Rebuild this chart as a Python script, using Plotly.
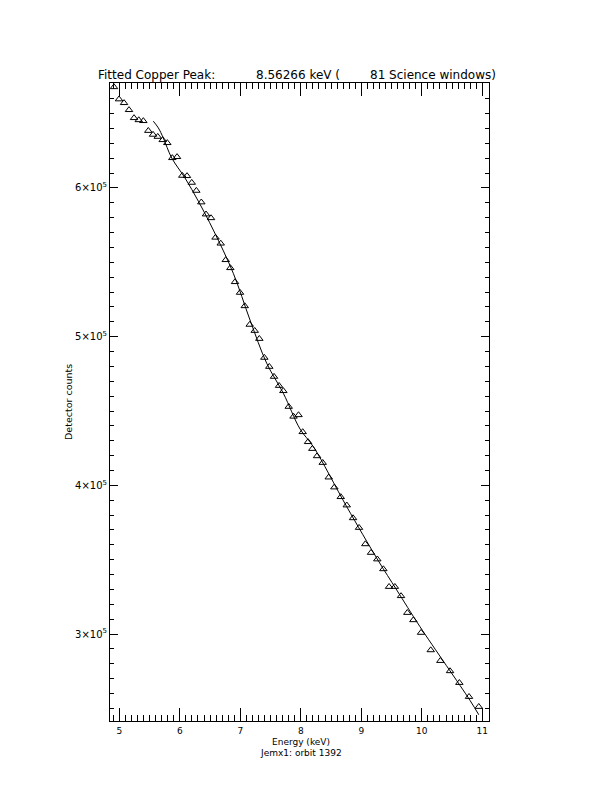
import plotly.graph_objects as go

# ---- data (energy in keV, detector counts) ----
energy = [4.912, 4.995, 5.078, 5.160, 5.243, 5.321, 5.397, 5.479, 5.557, 5.635,
          5.717, 5.793, 5.876, 5.954, 6.041, 6.119, 6.197, 6.273, 6.355, 6.433,
          6.516, 6.590, 6.676, 6.759, 6.835, 6.912, 6.995, 7.073, 7.155, 7.238,
          7.314, 7.397, 7.479, 7.557, 7.640, 7.711, 7.800, 7.879, 7.962, 8.031,
          8.119, 8.190, 8.268, 8.362, 8.461, 8.554, 8.660, 8.759, 8.863, 8.962,
          9.066, 9.160, 9.264, 9.364, 9.458, 9.554, 9.656, 9.760, 9.860, 9.987,
          10.147, 10.306, 10.466, 10.620, 10.780, 10.941]
counts = [667900, 659700, 657200, 652500, 647100, 645700, 645100, 638500, 635900, 634500,
          632300, 630300, 620200, 620900, 608300, 608100, 603600, 598200, 590400, 582300,
          579800, 566700, 562700, 551600, 546200, 536800, 529600, 520600, 508100, 504000,
          498600, 485900, 479800, 473100, 467000, 463500, 452900, 446300, 447300, 435900,
          429200, 424600, 419700, 415200, 405400, 398700, 392200, 386600, 378000, 371500,
          360500, 354700, 350300, 343700, 331800, 331800, 325600, 314300, 309400, 300900,
          289200, 282000, 275100, 267200, 257800, 251100]

fit_energy = [5.562, 5.645, 5.727, 5.866, 6.086, 6.306, 6.554, 6.884, 7.160, 7.436,
              7.711, 7.987, 8.207, 8.759, 9.276, 9.585, 9.970, 10.797, 10.941]
fit_counts = [644900, 640400, 633600, 620200, 606700, 591100, 571700, 542600, 511200, 482100,
              461900, 437900, 426000, 385600, 349600, 329600, 304900, 255300, 245700]

y_tickvals = [300000, 400000, 500000, 600000]
y_ticktext = ["3×10<sup>5</sup>", "4×10<sup>5</sup>", "5×10<sup>5</sup>", "6×10<sup>5</sup>"]
x_tickvals = [5, 6, 7, 8, 9, 10, 11]

title_left = "Fitted Copper Peak:"
title_mid = "8.56266 keV ("
title_right = "81 Science windows)"
x_title = "Energy (keV)"
subtitle = "Jemx1: orbit 1392"
y_title = "Detector counts"

FONT = "DejaVu Sans"

fig = go.Figure()
fig.add_trace(go.Scatter(
    x=energy, y=counts, mode="markers",
    marker=dict(symbol="triangle-up-open", size=6.5, color="black", line=dict(width=1, color="black")),
    showlegend=False, cliponaxis=False))
fig.add_trace(go.Scatter(
    x=fit_energy, y=fit_counts, mode="lines", line=dict(color="black", width=1, shape="spline"),
    showlegend=False))

axis_common = dict(showline=True, linecolor="black", linewidth=1, mirror="allticks",
                   ticks="inside", tickcolor="black", showgrid=False, zeroline=False)

fig.update_xaxes(range=[4.846, 11.11], tickvals=x_tickvals, ticklen=13, ticklabelstandoff=1,
                 tickfont=dict(family=FONT, size=9, color="black"),
                 minor=dict(dtick=0.1, tick0=0, ticklen=6, ticks="inside", tickcolor="black", showgrid=False),
                 **axis_common)
fig.update_yaxes(range=[241500, 670600], tickvals=y_tickvals, ticktext=y_ticktext, ticklen=8,
                 tickfont=dict(family=FONT, size=10, color="black"),
                 minor=dict(dtick=10000, tick0=0, ticklen=4, ticks="inside", tickcolor="black", showgrid=False),
                 **axis_common)

# page has an 8px body margin: shift everything up/left by 8px
OFF = 8
W, H = 612 - OFF, 792 - OFF
L, R, T, B = 110 - OFF, 489 - OFF, 83 - OFF, 721 - OFF
pw = R - L
ph = B - T

def px(xp):
    return (xp - OFF - L) / pw

def py(yp):
    return (B - (yp - OFF)) / ph

ann_font = dict(family=FONT, size=12, color="black")
small_font = dict(family=FONT, size=9, color="black")
annotations = [
    dict(text=title_left, x=px(95.7), y=py(75), xanchor="left", yanchor="middle", font=ann_font),
    dict(text=title_mid, x=px(254), y=py(75), xanchor="left", yanchor="middle", font=ann_font),
    dict(text=title_right, x=px(498), y=py(75), xanchor="right", yanchor="middle", font=ann_font),
    dict(text=x_title, x=px(301), y=py(741.5), xanchor="center", yanchor="middle", font=small_font, borderpad=0),
    dict(text=subtitle, x=px(301), y=py(752.5), xanchor="center", yanchor="middle", font=small_font, borderpad=0),
    dict(text=y_title, x=px(68), y=py(402), xanchor="center", yanchor="middle", textangle=-90,
         font=dict(family=FONT, size=9.5, color="black")),
]
for a in annotations:
    a.update(xref="paper", yref="paper", showarrow=False)

fig.update_layout(
    width=W, height=H, autosize=False,
    margin=dict(l=L, r=W - R, t=T, b=H - B, pad=0),
    paper_bgcolor="white", plot_bgcolor="white",
    annotations=annotations,
    font=dict(family=FONT, color="black"),
)

fig.write_html("out.html", config={"displayModeBar": False})
